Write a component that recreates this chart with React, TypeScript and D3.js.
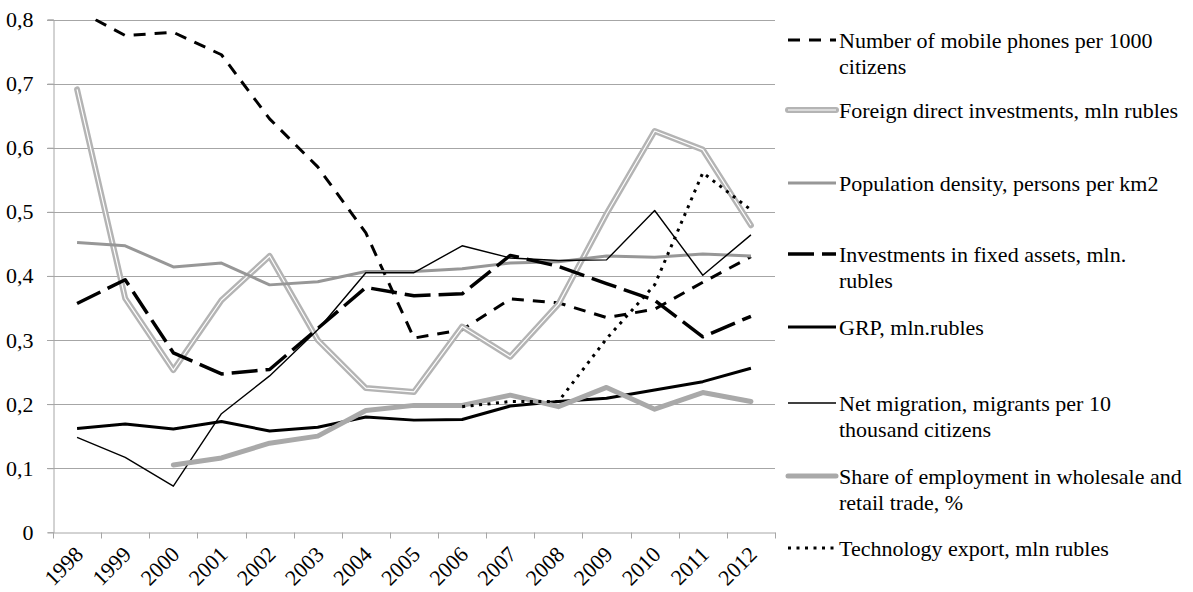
import * as d3 from 'd3';
import React, { useRef, useEffect } from 'react';

const years = ['1998', '1999', '2000', '2001', '2002', '2003', '2004', '2005', '2006', '2007', '2008', '2009', '2010', '2011', '2012'];
const yTicks = [0, 0.1, 0.2, 0.3, 0.4, 0.5, 0.6, 0.7, 0.8];

const mobilePhones = [0.815, 0.775, 0.78, 0.745, 0.645, 0.57, 0.467, 0.303, 0.316, 0.364, 0.358, 0.335, 0.348, 0.39, 0.43];
const foreignInvest = [0.691, 0.365, 0.253, 0.362, 0.431, 0.3, 0.225, 0.219, 0.321, 0.274, 0.356, 0.497, 0.626, 0.597, 0.479];
const popDensity = [0.452, 0.447, 0.414, 0.42, 0.386, 0.391, 0.407, 0.407, 0.411, 0.42, 0.422, 0.431, 0.429, 0.434, 0.431];
const fixedAssets = [0.357, 0.394, 0.28, 0.247, 0.254, 0.318, 0.382, 0.369, 0.372, 0.432, 0.415, 0.388, 0.362, 0.305, 0.337];
const grp = [0.162, 0.169, 0.161, 0.173, 0.158, 0.164, 0.18, 0.175, 0.176, 0.197, 0.204, 0.209, 0.222, 0.235, 0.256];
const netMigration = [0.148, 0.117, 0.072, 0.185, 0.244, 0.316, 0.405, 0.405, 0.447, 0.428, 0.424, 0.425, 0.502, 0.401, 0.464];
const tradeShare = [null, null, 0.105, 0.116, 0.139, 0.15, 0.19, 0.198, 0.198, 0.214, 0.196, 0.226, 0.192, 0.218, 0.204];
const techExport = [null, null, null, null, null, null, null, null, 0.196, 0.204, 0.204, 0.302, 0.386, 0.561, 0.503];

type Style = { color: string; width: number; dash?: string; cap?: string; inner?: boolean };

const series: { label: string[]; values: (number | null)[]; style: Style }[] = [
  { label: ['Number of mobile phones per 1000', 'citizens'], values: mobilePhones, style: { color: '#000', width: 3, dash: '12,9' } },
  { label: ['Foreign direct investments, mln rubles'], values: foreignInvest, style: { color: '#b4b4b4', width: 6, inner: true, cap: 'round' } },
  { label: ['Population density, persons per km2'], values: popDensity, style: { color: '#979797', width: 3 } },
  { label: ['Investments in fixed assets, mln.', 'rubles'], values: fixedAssets, style: { color: '#000', width: 3.5, dash: '26,8' } },
  { label: ['GRP, mln.rubles'], values: grp, style: { color: '#000', width: 3 } },
  { label: ['Net migration, migrants per 10', 'thousand citizens'], values: netMigration, style: { color: '#000', width: 1.4 } },
  { label: ['Share of employment in wholesale and', 'retail trade, %'], values: tradeShare, style: { color: '#a9a9a9', width: 5, cap: 'round' } },
  { label: ['Technology export, mln rubles'], values: techExport, style: { color: '#000', width: 3, dash: '3,5.5' } },
];

const legendY = [40, 110, 183, 254, 327, 403, 476, 548];

export default function App() {
  const svgRef = useRef(null);
  const width = 1193, height = 592;

  useEffect(() => {
    if (!svgRef.current) return;
    const svg = d3.select(svgRef.current);
    svg.selectAll('*').remove();

    const margin = { top: 19.5, left: 53, right: 775, bottom: 532.3 };
    const font = '"Liberation Serif", "Times New Roman", serif';
    const fontSize = 22;

    const x = d3.scaleBand().domain(years).range([margin.left, margin.right]);
    const y = d3.scaleLinear().domain([0, 0.8]).range([margin.bottom, margin.top]);
    const cx = (yr: string) => (x(yr) as number) + x.bandwidth() / 2;

    svg.append('defs').append('clipPath').attr('id', 'plotclip')
      .append('rect')
      .attr('x', margin.left).attr('y', margin.top - 1)
      .attr('width', margin.right - margin.left).attr('height', margin.bottom - margin.top + 1);

    // gridlines
    svg.append('g')
      .selectAll('line')
      .data(yTicks.filter(d => d > 0))
      .enter()
      .append('line')
      .attr('x1', margin.left - 6).attr('x2', margin.right)
      .attr('y1', d => Math.round(y(d)) + 0.5).attr('y2', d => Math.round(y(d)) + 0.5)
      .attr('stroke', '#a6a6a6').attr('stroke-width', 1);

    // y axis
    const yAxis = svg.append('g')
      .attr('transform', `translate(${margin.left + 0.5},0)`)
      .call(d3.axisLeft(y).tickValues(yTicks).tickSize(6).tickPadding(14)
        .tickFormat(d => d3.format('.1f')(d as number).replace('.', ',').replace(/^0,0$/, '0')));
    yAxis.select('.domain').attr('stroke', '#a6a6a6');
    yAxis.selectAll('.tick line').attr('stroke', '#a6a6a6');
    yAxis.selectAll('text').attr('font-family', font).attr('font-size', fontSize).attr('fill', '#000');

    // x axis
    const xAxis = svg.append('g')
      .attr('transform', `translate(0,${Math.round(margin.bottom) + 0.5})`)
      .call(d3.axisBottom(x).tickSize(0).tickFormat(() => ''));
    xAxis.select('.domain').attr('stroke', '#a6a6a6');
    xAxis.selectAll('.tick').remove();
    xAxis.selectAll('line.edge')
      .data([...years.map(yr => x(yr) as number), margin.right])
      .enter()
      .append('line')
      .attr('x1', d => Math.round(d) + 0.5).attr('x2', d => Math.round(d) + 0.5)
      .attr('y1', 0).attr('y2', 6)
      .attr('stroke', '#a6a6a6');

    svg.append('g')
      .selectAll('text')
      .data(years)
      .enter()
      .append('text')
      .attr('transform', d => `translate(${cx(d) + 2},${margin.bottom + 18}) rotate(-45)`)
      .attr('text-anchor', 'end')
      .attr('dy', '0.35em')
      .attr('font-family', font)
      .attr('font-size', fontSize)
      .text(d => d);

    // lines
    const line = d3.line<number | null>()
      .defined(d => d !== null)
      .x((d, i) => cx(years[i]))
      .y(d => y(d as number));

    const plot = svg.append('g').attr('clip-path', 'url(#plotclip)');
    series.forEach(s => {
      plot.append('path')
        .attr('d', line(s.values))
        .attr('fill', 'none')
        .attr('stroke', s.style.color)
        .attr('stroke-width', s.style.width)
        .attr('stroke-dasharray', s.style.dash || null)
        .attr('stroke-linecap', s.style.cap || 'butt')
        .attr('stroke-linejoin', 'round');
      if (s.style.inner) {
        plot.append('path')
          .attr('d', line(s.values))
          .attr('fill', 'none')
          .attr('stroke', '#fff')
          .attr('stroke-width', 1.2)
          .attr('stroke-linejoin', 'round');
      }
    });

    // legend
    const lg = svg.append('g');
    series.forEach((s, i) => {
      const ly = legendY[i];
      const g = lg.append('g').attr('transform', `translate(0,${ly})`);
      g.append('line')
        .attr('x1', 788).attr('x2', 836).attr('y1', 0).attr('y2', 0)
        .attr('stroke', s.style.color)
        .attr('stroke-width', s.style.width)
        .attr('stroke-dasharray', s.style.dash || null)
        .attr('stroke-linecap', s.style.cap || 'butt');
      if (s.style.inner) {
        g.append('line')
          .attr('x1', 788).attr('x2', 836).attr('y1', 0).attr('y2', 0)
          .attr('stroke', '#fff').attr('stroke-width', 1.2);
      }
      s.label.forEach((t, j) => {
        g.append('text')
          .attr('x', 839).attr('y', j * 26)
          .attr('dy', '0.35em')
          .attr('font-family', font)
          .attr('font-size', fontSize)
          .attr('fill', '#000')
          .text(t);
      });
    });
  }, []);

  return (
    <div style={{ position: 'absolute', left: 0, top: 0 }}>
      <svg ref={svgRef} width={width} height={height} style={{ display: 'block', background: '#fff' }} />
    </div>
  );
}
